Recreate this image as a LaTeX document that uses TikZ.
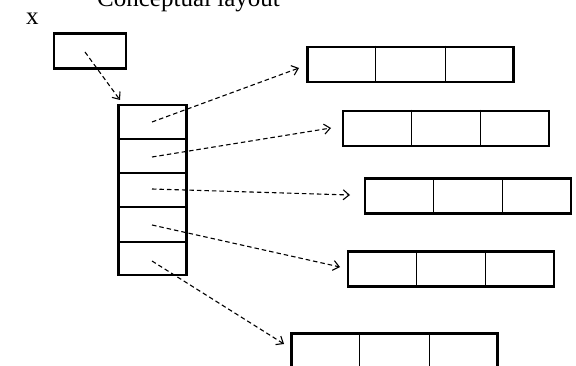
\documentclass[tikz,border=0pt]{standalone}
\usepackage{fontspec}
\setmainfont{Liberation Serif}
\usetikzlibrary{arrows.meta,calc}
\begin{document}
\begin{tikzpicture}[x=1pt,y=-1pt,
  frame/.style={draw,line width=2.8pt,rectangle,inner sep=0pt},
  rowbox/.style={frame,minimum width=206pt,minimum height=35pt},
  divider/.style={line width=1.3pt},
  link/.style={dashed,dash pattern=on 4.5pt off 3pt,line width=1.1pt,-{Straight Barb[length=6pt,width=10pt,line width=1.1pt]}},
  lbl/.style={font=\fontsize{25}{30}\selectfont,inner sep=0pt}]
\useasboundingbox (0,0) rectangle (576,366);
\clip (0,0) rectangle (576,366);
% title and label
\node[lbl,anchor=base west] (title) at (97,7) {Conceptual layout};
\node[lbl,anchor=base west] (xlab) at (26,25) {x};
% small box
\node[frame,minimum width=72pt,minimum height=35pt] (xbox) at (90,51) {};
% column
\node[frame,minimum width=68pt,minimum height=170pt] (col) at (152.5,190) {};
\foreach \yy in {139,173,207,242}
  \draw[divider] (col.west |- 0,\yy) -- (col.east |- 0,\yy);
% row boxes
\node[rowbox] (r1) at (410.5,64.5) {};
\node[rowbox] (r2) at (446,128.5) {};
\node[rowbox] (r3) at (468,196) {};
\node[rowbox] (r4) at (451,269) {};
\node[rowbox] (r5) at (394.5,351) {};
\foreach \r in {r1,r2,r3,r4,r5}{
  \draw[divider] ($(\r.north west)!0.3333!(\r.north east)$) -- ($(\r.south west)!0.3333!(\r.south east)$);
  \draw[divider] ($(\r.north west)!0.6667!(\r.north east)$) -- ($(\r.south west)!0.6667!(\r.south east)$);
}
% coordinates
\coordinate (s0) at (85,52);
\coordinate (t0) at (120,100);
\coordinate (s1) at (152,122);
\coordinate (s2) at (152,157);
\coordinate (s3) at (152,189);
\coordinate (s4) at (152,225);
\coordinate (s5) at (152,261);
\coordinate (t1) at (299,68);
\coordinate (t2) at (331,128);
\coordinate (t3) at (350,195);
\coordinate (t4) at (340,267);
\coordinate (t5) at (284,344);
\draw[link] (s0) -- (t0);
\foreach \i in {1,...,5}
  \draw[link] (s\i) -- (t\i);
\end{tikzpicture}
\end{document}
